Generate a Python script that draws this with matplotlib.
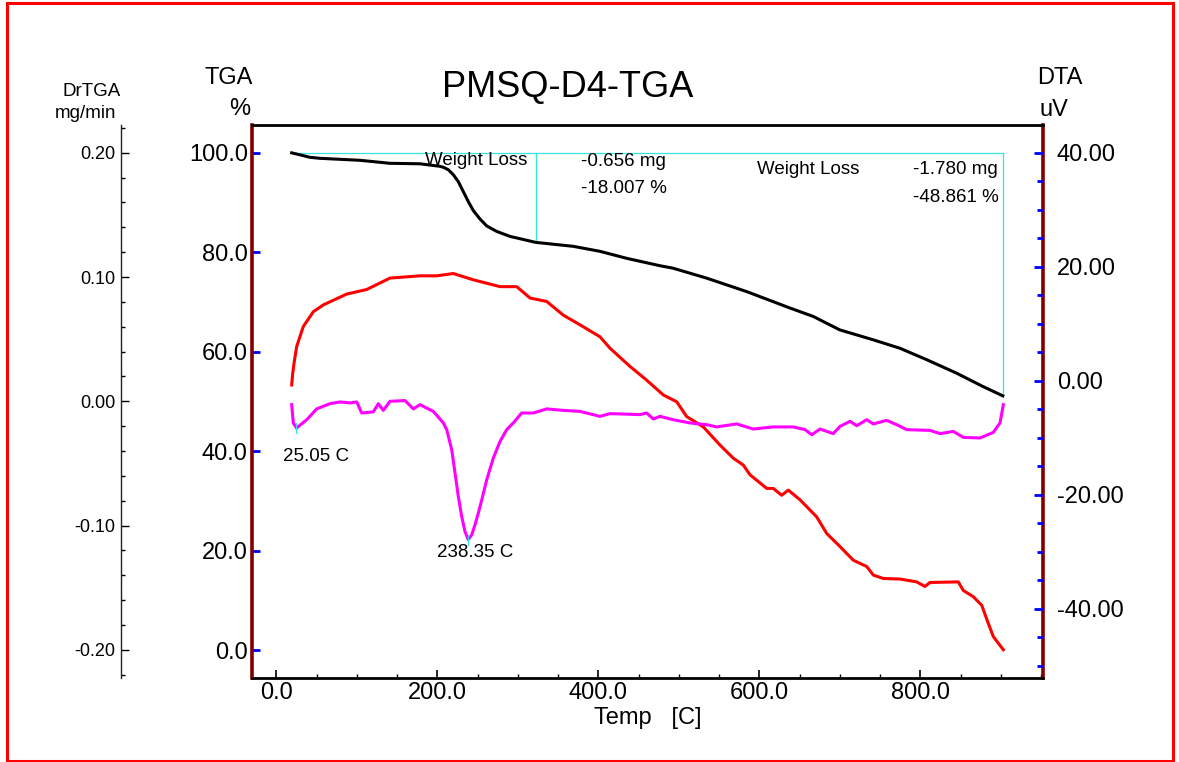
import matplotlib
matplotlib.use("Agg")
import matplotlib.pyplot as plt
from matplotlib.patches import Rectangle
from matplotlib.ticker import MultipleLocator, FormatStrFormatter

plt.rcParams["font.family"] = ["Liberation Sans", "DejaVu Sans"]

# %% data
tga_temp = [19.1, 29.4, 41.9, 54.3, 104, 141, 178.5, 203, 207.5, 213.7, 219.9,
            226.1, 232.3, 238.5, 244.7, 253, 261.4, 273.8, 290.3,
            322.2, 369, 402, 435, 476.6, 493, 534.7, 584.3, 638, 667, 700, 741.6,
            774.8, 808, 845, 878, 902.4]
tga_pct = [100.0, 99.6, 99.1, 98.9, 98.5, 97.9, 97.8, 97.3, 97.1, 96.6, 95.6,
           94.2, 92.2, 90.2, 88.4, 86.7, 85.3, 84.2, 83.2,
           82.0, 81.2, 80.2, 78.8, 77.3, 76.8, 74.8, 72.1, 68.8, 67.1, 64.4, 62.4,
           60.7, 58.4, 55.7, 53.0, 51.14]

dta_temp = [19.1, 20.4, 22.0, 25.3, 33.5, 46.0, 58.4, 87.5, 112.3, 141.2, 178.5,
            199.3, 219.9,
            244.7, 277.9, 298.6, 315.2, 335.9, 356.5, 377.3, 402.1, 414.5, 439.4,
            460, 480.7, 497.4, 509.8, 530.4, 551.2, 567.7, 580.1, 588.4, 609.2,
            617.4, 627.8, 636, 650.6, 671.3, 683.7, 700.2, 716.8, 733.4, 741.6,
            754, 774.8, 795.5, 805.8, 812, 847.2, 853.4, 865.8, 876.3, 884.5,
            890.7, 903.1]
dta_uv = [-0.75, 1.3, 3.05, 6.0, 9.5, 12.1, 13.3, 15.2, 16.0, 18.0, 18.4,
          18.4, 18.8,
          17.7, 16.5, 16.5, 14.5, 13.9, 11.5, 9.8, 7.7, 5.7, 2.5,
          0.1, -2.5, -3.7, -6.3, -8.1, -11.3, -13.6, -14.8, -16.5, -18.9,
          -18.9, -20.1, -19.2, -20.9, -23.9, -26.8, -29.1, -31.5, -32.6, -34.1,
          -34.7, -34.8, -35.3, -36.1, -35.4, -35.3, -36.8, -37.9, -39.4, -42.6,
          -44.9, -47.2]

dtg_temp = [19.1, 21.1, 25.05, 37.8, 50.2, 66.7, 79.1, 91.6, 99.9, 106.1, 120.5,
            126.7, 132.9, 141.2, 159.9, 170.2, 178.5, 195, 207.5, 211.7, 217.9,
            222, 226.1, 230.3, 234.4, 238.35, 242.7, 246.8, 250.9, 255.2, 261.4,
            269.6, 277.9, 286.2, 294.4, 304.8, 319.3,
            335.9, 356.5, 377.3, 402.1, 414.5, 451.8, 460, 468.3, 476.6, 493.2,
            513.9, 534.7, 547.1, 571.9, 592.5, 617.4, 642.2, 656.8, 665.1, 675.4,
            691.9, 700.2, 712.7, 721, 733.4, 741.6, 758.2, 770.7, 783.1, 812,
            824.5, 841, 853.4, 874.2, 890.7, 899, 903.1]
dtg_val = [-0.0027, -0.0174, -0.0215, -0.0148, -0.0061, -0.0019, -0.0005, -0.0013,
           -0.0005, -0.0094, -0.0085, -0.0019, -0.0073, 0.0, 0.0006, -0.0061,
           -0.0027, -0.0081, -0.0174, -0.0228, -0.0390,
           -0.0577, -0.0766, -0.0927, -0.1048, -0.1112, -0.1075, -0.0994, -0.0900,
           -0.0793, -0.0631, -0.0456, -0.0323, -0.0228, -0.0174, -0.0094, -0.0094,
           -0.0061,
           -0.0073, -0.0081, -0.0121, -0.0099, -0.0107, -0.0094, -0.0142, -0.0121,
           -0.0148, -0.0174, -0.0188, -0.0206, -0.0182, -0.0223, -0.0206, -0.0206,
           -0.0228, -0.0269, -0.0223, -0.0260, -0.0202, -0.0161, -0.0196, -0.0148,
           -0.0182, -0.0153, -0.0188, -0.0228, -0.0234, -0.0260, -0.0242, -0.0290,
           -0.0295, -0.0250, -0.0174, -0.0027]

loss_start, loss_mid, loss_end = 19.1, 322.5, 902.4
loss_levels = [100.0, 81.993, 51.139]
peak_temps = [25.05, 238.35]
peak_vals = [-0.0215, -0.1112]

maroon = "#800000"
cyan = "#33e6e6"

fg = plt.figure(figsize=(11.79, 7.62), dpi=100)
ax = fg.add_axes([252 / 1179, 1 - 678 / 762, 791 / 1179, 553 / 762])
ax2 = ax.twinx()
ax3 = ax.twinx()

# %% TGA (left axis)
ax.plot(tga_temp, tga_pct, color="black", lw=2.2, zorder=3)
ax.plot([loss_start, loss_end], [loss_levels[0]] * 2, color=cyan, lw=0.9)
ax.plot([loss_mid, loss_mid], loss_levels[:2], color=cyan, lw=0.9)
ax.plot([loss_end, loss_end], [loss_levels[0], loss_levels[2]], color=cyan, lw=0.9)
ax.set_xlim(-30.2, 952.4)
ax.set_ylim(-5.6, 105.6)
ax.xaxis.set_major_locator(MultipleLocator(200))
ax.xaxis.set_minor_locator(MultipleLocator(50))
ax.xaxis.set_major_formatter(FormatStrFormatter("%.1f"))
ax.yaxis.set_major_locator(MultipleLocator(20))
ax.yaxis.set_major_formatter(FormatStrFormatter("%.1f"))
ax.tick_params(axis="x", which="major", direction="in", length=6, width=1.2,
               labelsize=17, pad=3, top=False)
ax.tick_params(axis="x", which="minor", direction="in", length=3, width=1, top=False)
ax.tick_params(axis="y", direction="in", length=6, width=2, color="blue",
               labelsize=17, pad=3, right=False)
for s in ("left", "right"):
    ax.spines[s].set_color(maroon)
    ax.spines[s].set_linewidth(2.6)
for s in ("top", "bottom"):
    ax.spines[s].set_color("black")
    ax.spines[s].set_linewidth(2)
ax.set_xlabel("Temp   [C]", fontsize=17, labelpad=2)

# %% DTA (right axis)
ax2.plot(dta_temp, dta_uv, color="red", lw=2.2, zorder=3)
ax2.set_ylim(-52.16, 44.86)
ax2.yaxis.set_major_locator(MultipleLocator(20))
ax2.yaxis.set_minor_locator(MultipleLocator(5))
ax2.yaxis.set_major_formatter(FormatStrFormatter("%.2f"))
ax2.tick_params(axis="y", which="major", direction="in", length=6.5, width=2,
                color="blue", labelsize=17, pad=10)
ax2.tick_params(axis="y", which="minor", direction="in", length=4, width=2, color="blue")
for s in ax2.spines.values():
    s.set_visible(False)

# %% DrTGA (detached left axis)
ax3.plot(dtg_temp, dtg_val, color="#ff00ff", lw=2.2, zorder=2)
for t, v in zip(peak_temps, peak_vals):
    ax3.plot([t, t], [v - 0.004, v + 0.004], color=cyan, lw=0.9)
ax3.set_ylim(-0.2226, 0.2223)
ax3.yaxis.set_label_position("left")
ax3.yaxis.tick_left()
ax3.yaxis.set_major_locator(MultipleLocator(0.1))
ax3.yaxis.set_minor_locator(MultipleLocator(0.02))
ax3.yaxis.set_major_formatter(FormatStrFormatter("%.2f"))
ax3.tick_params(axis="y", which="major", direction="in", length=5.5, width=1,
                labelsize=13, pad=4)
ax3.tick_params(axis="y", which="minor", direction="in", length=3, width=1)
for s in ax3.spines.values():
    s.set_visible(False)
ax3.spines["left"].set_visible(True)
ax3.spines["left"].set_position(("axes", -131 / 791))
ax3.spines["left"].set_color("#222222")
ax3.spines["left"].set_linewidth(1)

# %% annotations
ax.text(184.7, 98.5, "Weight Loss", fontsize=13.5, va="center")
ax.text(378.1, 98.3, "-0.656 mg", fontsize=13.5, va="center")
ax.text(378.1, 92.8, "-18.007 %", fontsize=13.5, va="center")
ax.text(597.5, 96.6, "Weight Loss", fontsize=13.5, va="center")
ax.text(790.6, 96.6, "-1.780 mg", fontsize=13.5, va="center")
ax.text(790.6, 91.1, "-48.861 %", fontsize=13.5, va="center")
ax.text(8.3, 39.0, "25.05 C", fontsize=13.5, va="center")
ax.text(199.6, 19.7, "238.35 C", fontsize=13.5, va="center")

# %% titles and axis captions
fg.text(568 / 1179, 1 - 87 / 762, "PMSQ-D4-TGA", fontsize=26, ha="center", va="center")
fg.text(229 / 1179, 1 - 78 / 762, "TGA", fontsize=17, ha="center", va="center")
fg.text(240 / 1179, 1 - 109 / 762, "%", fontsize=17, ha="center", va="center")
fg.text(92 / 1179, 1 - 91 / 762, "DrTGA", fontsize=13.5, ha="center", va="center")
fg.text(86 / 1179, 1 - 114 / 762, "mg/min", fontsize=13.5, ha="center", va="center")
fg.text(1060 / 1179, 1 - 78 / 762, "DTA", fontsize=17, ha="center", va="center")
fg.text(1054 / 1179, 1 - 110 / 762, "uV", fontsize=17, ha="center", va="center")

# %% red frame
fg.patches.append(Rectangle((7 / 1179, 1 / 762), 1166 / 1179, 758 / 762,
                            transform=fg.transFigure, fill=False,
                            edgecolor="red", lw=2.2))

fg.savefig("out.png", dpi=100)
